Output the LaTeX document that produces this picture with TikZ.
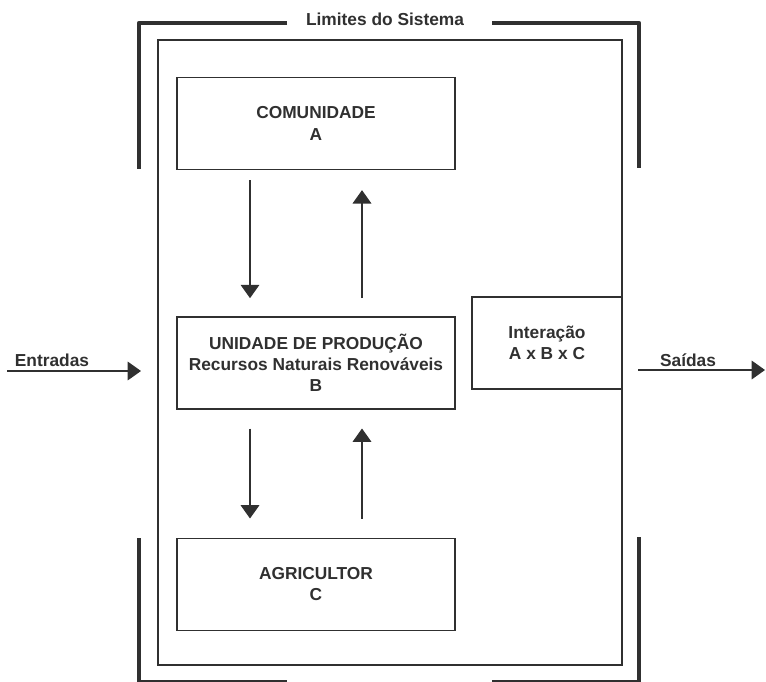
\documentclass[tikz,border=0pt]{standalone}
\usepackage{fontspec}
\setmainfont{Liberation Sans}
\usetikzlibrary{arrows.meta,positioning,calc}
\definecolor{ink}{RGB}{48,48,48}
\tikzset{
    auto,semithick,
    txt/.style={text=ink, font=\fontsize{13}{16}\selectfont\bfseries, align=center},
    bloco/.style={rectangle, draw=ink, line width=1pt, txt, inner sep=2pt, minimum width=208.5pt, minimum height=69pt},
    limite/.style={draw=ink, line width=3.4pt, line join=round},
    fluxo/.style={draw=ink, line width=0.9pt, -{Triangle[width=14pt,length=10pt]}}
}
\begin{document}
\begin{tikzpicture}[x=0.75pt,y=-0.75pt]
\useasboundingbox (0,0) rectangle (766,681);
% limites do sistema
\draw[limite] (287,23) -- (139,23) -- (139,169);
\draw[limite] (492,23) -- (639,23) -- (639,168);
\draw[limite] (139,538) -- (139,682.5) -- (287,682.5);
\draw[limite] (639,537) -- (639,682.5) -- (492,682.5);
\node[txt] (lim) at (385,19) {Limites do Sistema};
\draw[draw=ink, line width=1.5pt] (158,40) rectangle (622,665);
% blocos
\node[bloco](A) at (316,123.5){COMUNIDADE\\A};
\node[bloco](B)[below=109.5pt of A]{UNIDADE DE PRODUÇÃO\\Recursos Naturais Renováveis\\B};
\node[bloco](C)[below=96pt of B]{AGRICULTOR\\C};
\node[bloco, minimum width=112.5pt](I) at (547,343){Interação\\A x B x C};
% fluxos internos
\draw[fluxo]([xshift=-49.5pt,yshift=-7.5pt]A.south) -- ([xshift=-49.5pt,yshift=13.5pt]B.north);
\draw[fluxo]([xshift=34.5pt,yshift=13.5pt]B.north) -- ([xshift=34.5pt,yshift=-15pt]A.south);
\draw[fluxo]([xshift=-49.5pt,yshift=-14.25pt]B.south) -- ([xshift=-49.5pt,yshift=14.25pt]C.north);
\draw[fluxo]([xshift=34.5pt,yshift=14.25pt]C.north) -- ([xshift=34.5pt,yshift=-14.25pt]B.south);
% entradas e saidas
\coordinate (e0) at (7,371);
\coordinate (e1) at (141,371);
\coordinate (s0) at (638,370);
\coordinate (s1) at (765,370);
\draw[fluxo](e0) -- (e1);
\draw[fluxo](s0) -- (s1);
\node[txt] (ent) at (52,360){Entradas};
\node[txt] (sai) at (688,360){Saídas};
\end{tikzpicture}
\end{document}
